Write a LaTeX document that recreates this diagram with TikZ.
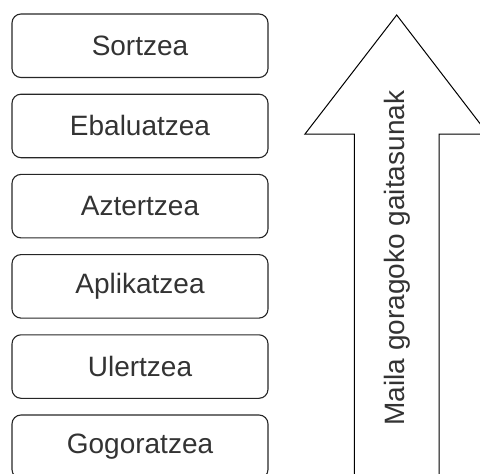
\documentclass[tikz,border=0pt]{standalone}
\usepackage{fontspec}
\setmainfont{Liberation Sans}
\begin{document}
\begin{tikzpicture}[x=1pt,y=-1pt,
  level/.style={draw=black!85, line width=1.1pt, rounded corners=9pt,
    minimum width=256pt, minimum height=63.5pt, inner sep=0pt,
    text=black!80, font=\fontsize{28}{32}\selectfont},
  uparrow/.style={draw=black, line width=1pt, fill=white, line join=miter}]
  \useasboundingbox (0,0) rectangle (480,474);
  \clip (0,0) rectangle (480,474);
  % stacked levels, lowest at the bottom
  \foreach \lbl [count=\i from 0] in {Sortzea,Ebaluatzea,Aztertzea,Aplikatzea,Ulertzea,Gogoratzea}{
    \node[level] (lvl\i) at (140, {14+80.2*\i+31.75}) {\lbl};
  }
  % big upward arrow
  \draw[uparrow] (396.7,15) -- (305,134) -- (354.3,134) -- (354.3,490)
    -- (439,490) -- (439,134) -- (488,134) -- cycle;
  \node[rotate=90, text=black!80, font=\fontsize{28}{32}\selectfont] (lbl) at (397,258)
    {Maila goragoko gaitasunak};
\end{tikzpicture}
\end{document}
